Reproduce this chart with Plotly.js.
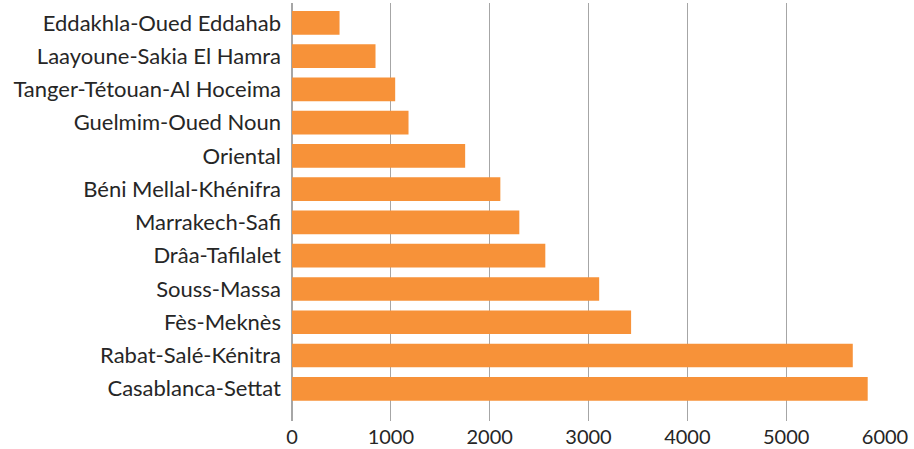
<!DOCTYPE html>
<html><head><meta charset="utf-8">
<script src="https://cdn.plot.ly/plotly-3.0.1.min.js"></script>
<style>html,body{margin:0;padding:0;background:#fff}</style>
</head><body><div id="chart" style="width:914px;height:449px"></div>
<script>
const regions = ["Casablanca-Settat","Rabat-Salé-Kénitra","Fès-Meknès","Souss-Massa","Drâa-Tafilalet","Marrakech-Safi","Béni Mellal-Khénifra","Oriental","Guelmim-Oued Noun","Tanger-Tétouan-Al Hoceima","Laayoune-Sakia El Hamra","Eddakhla-Oued Eddahab"];
const values = [5825,5674,3431,3108,2563,2300,2108,1752,1179,1044,845,481];
const xTicks = [0,1000,2000,3000,4000,5000,6000];

const xfont = {family: "Lato, Carlito, 'Open Sans', sans-serif", size: 20, color: "#262626"};
const yfont = {family: "Lato, Carlito, 'Open Sans', sans-serif", size: 22, color: "#262626"};
Plotly.newPlot("chart", [{
  type: "bar", orientation: "h",
  x: values, y: regions,
  marker: {color: "#F79239"},
  hoverinfo: "x+y"
}], {
  width: 914, height: 449,
  margin: {l: 292, r: 29, t: 3, b: 28},
  paper_bgcolor: "#fff", plot_bgcolor: "#fff",
  bargap: 0.288,
  font: xfont,
  xaxis: {range: [0, 6000], tickvals: xTicks, ticktext: xTicks.map(String),
    showgrid: true, gridcolor: "#a6a6a6", gridwidth: 1.3,
    zeroline: true, zerolinecolor: "#a6a6a6", zerolinewidth: 1.3,
    showline: false, ticks: "", tickfont: xfont, ticklabelstandoff: 2},
  yaxis: {type: "category", categoryorder: "array", categoryarray: regions,
    range: [-0.968, 11.595], showgrid: false, zeroline: false, showline: false,
    ticks: "", tickfont: yfont, ticklabelstandoff: 10},
  showlegend: false
}, {displayModeBar: false, staticPlot: true});
</script></body></html>
